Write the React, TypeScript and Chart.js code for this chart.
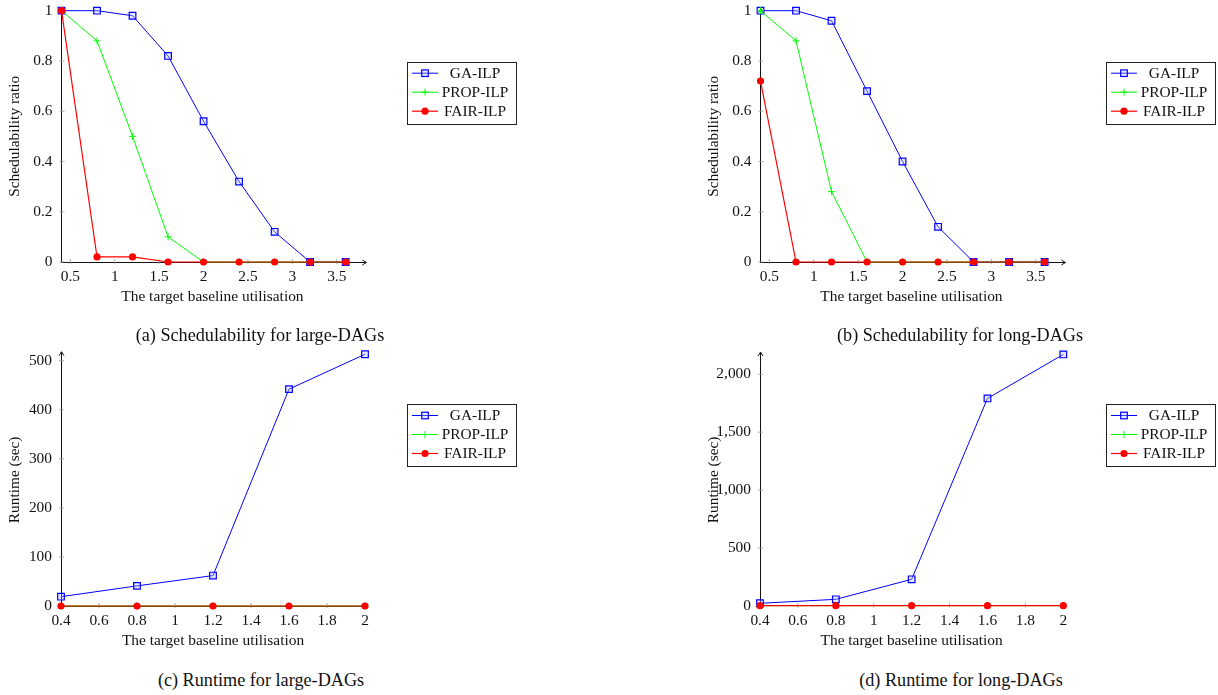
import React, { useEffect, useRef } from "react";
import { Chart, registerables } from "chart.js";

Chart.register(...registerables);

const FONT = '"Liberation Serif", "Times New Roman", Times, serif';
const BLUE = "#0000ff";
const GREEN = "#00ff00";
const RED = "#ff0000";
const INK = "#111111";
const FS = 15.4;
const LH = FS * 1.2;

// ---------- data ----------
const seriesNames = ["GA-ILP", "PROP-ILP", "FAIR-ILP"];

const schedX = [0.4, 0.8, 1.2, 1.6, 2.0, 2.4, 2.8, 3.2, 3.6];
const largeGA = [1, 1, 0.98, 0.82, 0.56, 0.32, 0.12, 0, 0];
const largePROP = [1, 0.88, 0.5, 0.1, 0, 0, 0, 0, 0];
const largeFAIR = [1, 0.02, 0.02, 0, 0, 0, 0, 0, 0];
const longGA = [1, 1, 0.96, 0.68, 0.4, 0.14, 0, 0, 0];
const longPROP = [1, 0.88, 0.28, 0, 0, 0, 0, 0, 0];
const longFAIR = [0.72, 0, 0, 0, 0, 0, 0, 0, 0];

const runX = [0.4, 0.8, 1.2, 1.6, 2.0];
const runLargeGA = [19, 41, 62, 442, 513];
const runLargePROP = [0, 0, 0, 0, 0];
const runLargeFAIR = [0, 0, 0, 0, 0];
const runLongGA = [21, 55, 228, 1792, 2172];
const runLongPROP = [0, 0, 0, 0, 0];
const runLongFAIR = [0, 0, 0, 0, 0];

const schedXTicks = [0.5, 1, 1.5, 2, 2.5, 3, 3.5];
const schedYTicks = [0, 0.2, 0.4, 0.6, 0.8, 1];
const runXTicks = [0.4, 0.6, 0.8, 1, 1.2, 1.4, 1.6, 1.8, 2];
const runLargeYTicks = [0, 100, 200, 300, 400, 500];
const runLongYTicks = [0, 500, 1000, 1500, 2000];

const xTitle = "The target baseline utilisation";
const captions = [
  "(a) Schedulability for large-DAGs",
  "(b) Schedulability for long-DAGs",
  "(c) Runtime for large-DAGs",
  "(d) Runtime for long-DAGs",
];

// ---------- layout ----------
type Panel = {
  left: number; top: number; width: number; height: number;
  area: { left: number; top: number; right: number; bottom: number };
  xs: number[]; ga: number[]; prop: number[]; fair: number[];
  xMin: number; xMax: number; yMin: number; yMax: number;
  xTicks: number[]; yTicks: number[]; yTitle: string;
  xTitleCenter: number; legendTop: number;
};

const panels: Panel[] = [
  {
    left: 0, top: 0, width: 560, height: 310,
    area: { left: 61.5, top: 10.7, right: 363.4, bottom: 262 },
    xs: schedX, ga: largeGA, prop: largePROP, fair: largeFAIR,
    xMin: 0.4, xMax: 3.8, yMin: 0, yMax: 1,
    xTicks: schedXTicks, yTicks: schedYTicks, yTitle: "Schedulability ratio",
    xTitleCenter: 297, legendTop: 61.7,
  },
  {
    left: 699, top: 0, width: 519, height: 310,
    area: { left: 61.5, top: 10.7, right: 363.4, bottom: 262 },
    xs: schedX, ga: longGA, prop: longPROP, fair: longFAIR,
    xMin: 0.4, xMax: 3.8, yMin: 0, yMax: 1,
    xTicks: schedXTicks, yTicks: schedYTicks, yTitle: "Schedulability ratio",
    xTitleCenter: 297, legendTop: 61.7,
  },
  {
    left: 0, top: 340, width: 560, height: 310,
    area: { left: 61, top: 13.8, right: 365, bottom: 266 },
    xs: runX, ga: runLargeGA, prop: runLargePROP, fair: runLargeFAIR,
    xMin: 0.4, xMax: 2.0, yMin: 0, yMax: 514,
    xTicks: runXTicks, yTicks: runLargeYTicks, yTitle: "Runtime (sec)",
    xTitleCenter: 301, legendTop: 64,
  },
  {
    left: 699, top: 340, width: 519, height: 310,
    area: { left: 61, top: 14.1, right: 364.3, bottom: 265.7 },
    xs: runX, ga: runLongGA, prop: runLongPROP, fair: runLongFAIR,
    xMin: 0.4, xMax: 2.0, yMin: 0, yMax: 2175,
    xTicks: runXTicks, yTicks: runLongYTicks, yTitle: "Runtime (sec)",
    xTitleCenter: 301, legendTop: 64,
  },
];

const captionPos = [
  { x: 260, y: 335 },
  { x: 960, y: 335 },
  { x: 261, y: 680 },
  { x: 961, y: 680 },
];

// ---------- plugin: pgf-like ticks, arrows, legend ----------
function drawMarker(ctx: CanvasRenderingContext2D, style: string, cx: number, cy: number, color: string, fill: string) {
  ctx.save();
  ctx.strokeStyle = color;
  ctx.fillStyle = fill;
  if (style === "rect") {
    const s = 3.3;
    ctx.lineWidth = 1.2;
    ctx.fillRect(cx - s, cy - s, 2 * s, 2 * s);
    ctx.strokeRect(cx - s, cy - s, 2 * s, 2 * s);
  } else if (style === "cross") {
    const s = 3.5;
    ctx.lineWidth = 1;
    ctx.beginPath();
    ctx.moveTo(cx - s, cy); ctx.lineTo(cx + s, cy);
    ctx.moveTo(cx, cy - s); ctx.lineTo(cx, cy + s);
    ctx.stroke();
  } else {
    ctx.beginPath();
    ctx.arc(cx, cy, 3.6, 0, Math.PI * 2);
    ctx.fill();
  }
  ctx.restore();
}

const pgfPlugin = {
  id: "pgf",
  beforeDatasetsDraw(chart: any) {
    const ctx: CanvasRenderingContext2D = chart.ctx;
    const { left, right, top, bottom } = chart.chartArea;
    const xs = chart.scales.x;
    const ys = chart.scales.y;
    ctx.save();
    ctx.strokeStyle = "#9a9a9a";
    ctx.lineWidth = 0.8;
    xs.ticks.forEach((t: any) => {
      const px = xs.getPixelForValue(t.value);
      ctx.beginPath();
      ctx.moveTo(px, bottom - 3);
      ctx.lineTo(px, bottom + 2);
      ctx.stroke();
    });
    ys.ticks.forEach((t: any) => {
      const py = ys.getPixelForValue(t.value);
      ctx.beginPath();
      ctx.moveTo(left - 2, py);
      ctx.lineTo(left + 3, py);
      ctx.stroke();
    });
    // arrows
    ctx.strokeStyle = INK;
    ctx.lineWidth = 1;
    const tipX = right + 3;
    ctx.beginPath();
    ctx.moveTo(right, bottom + 0.5);
    ctx.lineTo(tipX, bottom + 0.5);
    ctx.moveTo(tipX - 4, bottom + 0.5 - 2.5);
    ctx.lineTo(tipX, bottom + 0.5);
    ctx.lineTo(tipX - 4, bottom + 0.5 + 2.5);
    ctx.stroke();
    const tipY = top - 2;
    ctx.beginPath();
    ctx.moveTo(left + 0.5, top);
    ctx.lineTo(left + 0.5, tipY);
    ctx.moveTo(left + 0.5 - 2.5, tipY + 4);
    ctx.lineTo(left + 0.5, tipY);
    ctx.lineTo(left + 0.5 + 2.5, tipY + 4);
    ctx.stroke();
    ctx.restore();
  },
  afterDraw(chart: any, _args: any, opts: any) {
    const ctx: CanvasRenderingContext2D = chart.ctx;
    const bx = opts.x, by = opts.y, bw = 109, bh = 62;
    ctx.save();
    ctx.fillStyle = "#ffffff";
    ctx.fillRect(bx, by, bw, bh);
    ctx.strokeStyle = "#222";
    ctx.lineWidth = 1;
    ctx.strokeRect(Math.round(bx) + 0.5, Math.round(by) + 0.5, bw, bh);
    [0, 1, 2].forEach((i, row) => {
      const ds = chart.data.datasets[i];
      const cy = by + 11.5 + row * 19;
      ctx.strokeStyle = ds.borderColor;
      ctx.lineWidth = ds.borderWidth;
      ctx.beginPath();
      ctx.moveTo(bx + 5, cy);
      ctx.lineTo(bx + 31, cy);
      ctx.stroke();
      drawMarker(ctx, ds.pointStyle, bx + 18, cy, ds.pointBorderColor, ds.pointBackgroundColor);
      ctx.fillStyle = INK;
      ctx.font = `${FS}px ${FONT}`;
      ctx.textAlign = "center";
      ctx.textBaseline = "middle";
      ctx.fillText(ds.label, bx + 68, cy + 0.5);
    });
    ctx.restore();
  },
};

function PanelChart({ p }: { p: Panel }) {
  const ref = useRef<HTMLCanvasElement | null>(null);
  useEffect(() => {
    if (!ref.current) return;
    const tickFont = { family: FONT, size: FS, lineHeight: 1.2 };
    const fmt = (v: any) => Number(v).toLocaleString("en-US");
    const chart = new Chart(ref.current, {
      type: "line",
      data: {
        datasets: [
          {
            label: seriesNames[0],
            data: p.xs.map((x, i) => ({ x, y: p.ga[i] })),
            borderColor: BLUE, borderWidth: 1,
            pointStyle: "rect", pointRadius: 4.7, pointBorderWidth: 1.2,
            pointBorderColor: BLUE, pointBackgroundColor: "rgba(190,190,255,0.35)",
            order: 3, clip: false, tension: 0,
          },
          {
            label: seriesNames[1],
            data: p.xs.map((x, i) => ({ x, y: p.prop[i] })),
            borderColor: GREEN, borderWidth: 1,
            pointStyle: "cross", pointRadius: 3.5, pointBorderWidth: 1,
            pointBorderColor: GREEN, pointBackgroundColor: GREEN,
            order: 2, clip: false, tension: 0,
          },
          {
            label: seriesNames[2],
            data: p.xs.map((x, i) => ({ x, y: p.fair[i] })),
            borderColor: RED, borderWidth: 1.2,
            pointStyle: "circle", pointRadius: 3.6, pointBorderWidth: 0,
            pointBorderColor: RED, pointBackgroundColor: RED,
            order: 1, clip: false, tension: 0,
          },
        ] as any,
      },
      options: {
        responsive: false,
        animation: false,
        devicePixelRatio: 1,
        events: [],
        layout: {
          padding: { left: 0, top: p.area.top, right: p.width - p.area.right, bottom: 0 },
        },
        plugins: {
          legend: { display: false },
          tooltip: { enabled: false },
          pgf: { x: 407, y: p.legendTop },
        } as any,
        scales: {
          x: {
            type: "linear",
            position: "bottom",
            bounds: "data",
            min: p.xMin,
            max: p.xMax,
            afterBuildTicks: (s: any) => { s.ticks = p.xTicks.map((v) => ({ value: v })); },
            afterFit: (s: any) => {
              s.height = p.height - p.area.bottom;
              s.paddingLeft = 0; s.paddingRight = 0;
            },
            grid: { display: false, drawTicks: false },
            border: { display: true, color: INK, width: 1 },
            ticks: { padding: 6, color: INK, font: tickFont, maxRotation: 0, autoSkip: false, callback: fmt },
            title: {
              display: true, text: xTitle, color: INK, font: tickFont,
              padding: { top: 0, bottom: p.height - p.xTitleCenter - LH / 2 },
            },
          },
          y: {
            type: "linear",
            position: "left",
            bounds: "data",
            min: p.yMin,
            max: p.yMax,
            afterBuildTicks: (s: any) => { s.ticks = p.yTicks.map((v) => ({ value: v })); },
            afterFit: (s: any) => {
              s.width = p.area.left;
              s.paddingTop = 0; s.paddingBottom = 0;
            },
            grid: { display: false, drawTicks: false },
            border: { display: true, color: INK, width: 1 },
            ticks: { padding: 9, color: INK, font: tickFont, autoSkip: false, callback: fmt },
            title: {
              display: true, text: p.yTitle, color: INK, font: tickFont,
              padding: { top: 15 - LH / 2, bottom: 0 },
            },
          },
        } as any,
      },
      plugins: [pgfPlugin as any],
    });
    return () => chart.destroy();
  }, [p]);
  return (
    <canvas
      ref={ref}
      width={p.width}
      height={p.height}
      style={{ position: "absolute", left: p.left, top: p.top, width: p.width, height: p.height, display: "block" }}
    />
  );
}

export default function App() {
  return (
    <div style={{ position: "absolute", left: 0, top: 0, width: 1218, height: 695, background: "#fff", overflow: "hidden" }}>
      {panels.map((p, i) => (
        <PanelChart key={i} p={p} />
      ))}
      {captions.map((c, i) => (
        <div
          key={"c" + i}
          style={{
            position: "absolute",
            left: captionPos[i].x - 200,
            top: captionPos[i].y - 11,
            width: 400,
            height: 22,
            lineHeight: "22px",
            textAlign: "center",
            fontFamily: FONT,
            fontSize: 18.2,
            color: INK,
            whiteSpace: "nowrap",
          }}
        >
          {c}
        </div>
      ))}
    </div>
  );
}
